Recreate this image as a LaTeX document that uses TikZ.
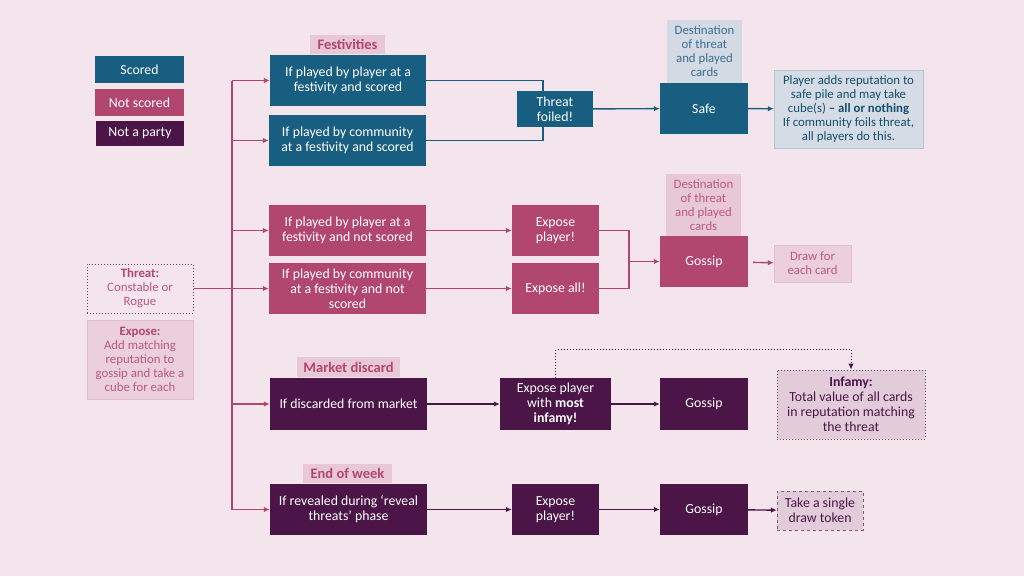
\documentclass[tikz,border=0pt]{standalone}
\usepackage{fontspec}
\setmainfont{Carlito}
\usepackage{xcolor}
\usetikzlibrary{arrows.meta}

\definecolor{bgpink}{HTML}{F4E4EB}
\definecolor{scoredcol}{HTML}{185E80}
\definecolor{notscoredcol}{HTML}{B1466E}
\definecolor{partycol}{HTML}{4B1547}
\definecolor{lblpink}{HTML}{E9C8D5}
\definecolor{lblgrey}{HTML}{D3DAE3}
\definecolor{notegrey}{HTML}{D5DCE5}
\definecolor{notepink}{HTML}{EBCFDA}
\definecolor{notelilac}{HTML}{E2CCDA}
\definecolor{softpink}{HTML}{BA5A81}
\definecolor{greyblue}{HTML}{3D6E92}

\newcommand{\boxfont}{\fontsize{13.8}{15}\selectfont}
\newcommand{\notefont}{\fontsize{12.8}{14}\selectfont}
\newcommand{\bignotefont}{\fontsize{13.8}{15}\selectfont}

\begin{document}
\begin{tikzpicture}[x=1pt, y=-1pt,
	wh/.style 2 args={minimum width=#1pt, minimum height=#2pt},
	flow/.style={inner sep=0pt, align=center, font=\boxfont, text=white},
	scored/.style={flow, fill=scoredcol},
	notscored/.style={flow, fill=notscoredcol},
	party/.style={flow, fill=partycol},
	tag/.style={inner sep=0pt, align=center, font=\fontsize{14.5}{16}\selectfont\bfseries, fill=lblpink, text=notscoredcol},
	note/.style={inner sep=0pt, align=center, font=\notefont},
	link/.style={line width=1.4pt},
	arr/.style={link, -{Latex[length=6pt, width=5.5pt]}}]
	% fond
	\fill[bgpink] (0,0) rectangle (1024,576);

	% legenda
	\node[scored, wh={89}{27}] (legScored) at (139.5,69.5) {Scored};
	\node[notscored, wh={89}{27}] (legNot) at (139.5,102.5) {Not scored};
	\node[party, wh={88}{25}] (legParty) at (140,133.5) {Not a party};

	% minaccia
	\node[note, wh={106}{49}, draw=partycol!80, dotted, line width=1pt, text=softpink] (threat) at (140,288.5) {{\color{notscoredcol}\textbf{Threat:}}\\Constable or\\Rogue};
	\node[note, wh={106}{79}, fill=notepink, draw=notscoredcol!35, text=softpink] (expose) at (140,359.5) {{\color{notscoredcol}\textbf{Expose:}}\\Add matching\\reputation to\\gossip and take a\\cube for each};

	% festivita
	\node[tag, wh={75}{19}] (festLbl) at (347.5,44.5) {Festivities};
	\node[scored, wh={156}{51}] (fplayer) at (348,80.5) {If played by player at a\\festivity and scored};
	\node[scored, wh={157}{51}] (fcomm) at (347.5,140.5) {If played by community\\at a festivity and scored};
	\node[scored, wh={76}{36}] (foiled) at (555,109) {Threat\\foiled!};
	\node[note, wh={75}{63}, fill=lblgrey, text=greyblue] (safeLbl) at (704.5,51.5) {Destination\\of threat\\and played\\cards};
	\node[scored, wh={88}{51}] (safe) at (704,108.5) {Safe};
	\node[note, wh={149}{78}, fill=notegrey, draw=scoredcol!35, text=scoredcol!85!black] (safeNote) at (848.5,109) {Player adds reputation to\\safe pile and may take\\cube(s) \textbf{-- all or nothing}\\If community foils threat,\\all players do this.};

	\node[notscored, wh={157}{51}] (nplayer) at (347.5,230.5) {If played by player at a\\festivity and not scored};
	\node[notscored, wh={157}{51}] (ncomm) at (347.5,288.5) {If played by community\\at a festivity and not\\scored};
	\node[notscored, wh={87}{51}] (expPlayer) at (555.5,230.5) {Expose\\player!};
	\node[notscored, wh={87}{51}] (expAll) at (555.5,288.5) {Expose all!};
	\node[note, wh={75}{62}, fill=lblpink, text=softpink] (gossipLbl) at (703.5,205) {Destination\\of threat\\and played\\cards};
	\node[notscored, wh={88}{51}] (gossipA) at (704,261.5) {Gossip};
	\node[note, wh={77}{37}, fill=notepink, draw=notscoredcol!35, text=softpink] (drawNote) at (812.5,263.5) {Draw for\\each card};

	% mercato
	\node[tag, wh={103}{20}] (marketLbl) at (348.5,367) {Market discard};
	\node[party, wh={157}{52}] (market) at (348.5,404) {If discarded from market};
	\node[party, wh={111}{52}] (expMost) at (555.5,404) {Expose player\\with \textbf{most}\\\textbf{infamy!}};
	\node[party, wh={88}{52}] (gossipB) at (704,404) {Gossip};
	\node[note, font=\bignotefont, wh={148}{69}, fill=notelilac, draw=partycol!80, dotted, line width=1pt, text=partycol] (infamy) at (851,404.5) {\textbf{Infamy:}\\Total value of all cards\\in reputation matching\\the threat};

	% fine settimana
	\node[tag, wh={89}{19}] (weekLbl) at (347.5,473.5) {End of week};
	\node[party, wh={157}{51}] (week) at (348.5,509.5) {If revealed during `reveal\\threats' phase};
	\node[party, wh={87}{51}] (expWeek) at (555.5,509.5) {Expose\\player!};
	\node[party, wh={88}{51}] (gossipC) at (704,509.5) {Gossip};
	\node[note, font=\bignotefont, wh={86}{39}, fill=notelilac, draw=partycol!70, dashed, text=partycol] (token) at (820,510.5) {Take a single\\draw token};

	% frecce
	\coordinate (trunkTop) at (232,80.5);
	\coordinate (trunkBot) at (232,509.5);
	\coordinate (merge) at (629,261.5);
	\draw[link, notscoredcol] (trunkTop) -- (trunkBot);
	\draw[link, notscoredcol] (threat.east) -- (threat.east -| trunkTop);
	\foreach \n in {fplayer, fcomm, nplayer, ncomm, market, week}
		\draw[arr, notscoredcol] (\n.west -| trunkTop) -- (\n.west);

	\draw[link, scoredcol] (fplayer.east) -| ([xshift=-12pt]foiled.north);
	\draw[link, scoredcol] (fcomm.east) -| ([xshift=-12pt]foiled.south);
	\draw[arr, scoredcol] (foiled) -- (safe);
	\draw[arr, scoredcol] (safe) -- (safeNote);

	\draw[arr, notscoredcol] (nplayer) -- (expPlayer);
	\draw[arr, notscoredcol] (ncomm) -- (expAll);
	\draw[link, notscoredcol] (expPlayer.east) -| (merge);
	\draw[link, notscoredcol] (expAll.east) -| (merge);
	\draw[arr, notscoredcol] (merge) -- (gossipA);
	\draw[arr, notscoredcol, shorten <=5pt] (gossipA) -- (drawNote);

	\draw[arr, partycol] (market) -- (expMost);
	\draw[arr, partycol] (expMost) -- (gossipB);
	\draw[arr, partycol, line width=1pt, dotted] (expMost.north) -- ++(0,-28) -| (infamy.north);

	\draw[arr, partycol] (week) -- (expWeek);
	\draw[arr, partycol] (expWeek) -- (gossipC);
	\draw[arr, partycol] (gossipC) -- (token);
\end{tikzpicture}
\end{document}
